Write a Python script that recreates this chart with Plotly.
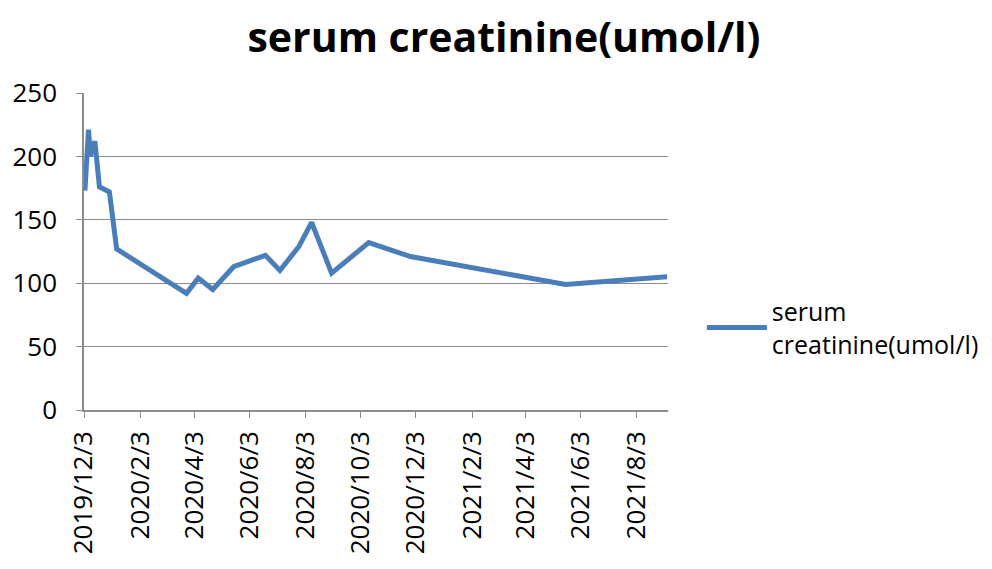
import plotly.graph_objects as go

dates = ["2019-12-04", "2019-12-08", "2019-12-10", "2019-12-15", "2019-12-20",
         "2019-12-31", "2020-01-08", "2020-03-25", "2020-04-07", "2020-04-23",
         "2020-05-16", "2020-06-20", "2020-07-06", "2020-07-27", "2020-08-10",
         "2020-09-01", "2020-10-12", "2020-11-27", "2021-05-17", "2021-09-06"]
creatinine = [173, 221, 200, 212, 176, 172, 127, 92, 104, 95,
              113, 122, 110, 129, 148, 108, 132, 121, 99, 105]

tick_dates = ["2019-12-03", "2020-02-03", "2020-04-03", "2020-06-03", "2020-08-03",
              "2020-10-03", "2020-12-03", "2021-02-03", "2021-04-03", "2021-06-03",
              "2021-08-03"]
tick_labels = ["2019/12/3", "2020/2/3", "2020/4/3", "2020/6/3", "2020/8/3",
               "2020/10/3", "2020/12/3", "2021/2/3", "2021/4/3", "2021/6/3",
               "2021/8/3"]
y_ticks = [0, 50, 100, 150, 200, 250]

series_name = "serum creatinine(umol/l)"
font_family = "Open Sans"
grid = "#8c8c8c"

fig = go.Figure()
fig.add_trace(go.Scatter(
    x=dates, y=creatinine, mode="lines",
    name="serum<br>creatinine(umol/l)",
    line=dict(color="#4a7ebb", width=5),
))

fig.update_layout(
    width=992, height=569,
    paper_bgcolor="white", plot_bgcolor="white",
    margin=dict(l=76, r=332, t=85, b=167),
    title=dict(text="<b>" + series_name + "</b>", x=0.5, xanchor="center",
               y=0.948, yanchor="middle",
               font=dict(family=font_family, size=41, color="black")),
    font=dict(family=font_family, color="black"),
    showlegend=True,
    legend=dict(x=1.058, xanchor="left", y=0.26, yanchor="middle",
                font=dict(family=font_family, size=25, color="black"),
                bgcolor="rgba(0,0,0,0)", itemwidth=60),
    xaxis=dict(
        type="date", range=["2019-12-03", "2021-09-07"],
        tickmode="array", tickvals=tick_dates, ticktext=tick_labels,
        tickangle=-90, tickfont=dict(size=26, family=font_family),
        showgrid=False, showline=True, linecolor=grid, linewidth=1.5,
        ticks="outside", ticklen=6, tickcolor=grid, zeroline=False,
        ticklabelstandoff=3, automargin=False,
    ),
    yaxis=dict(
        range=[0, 250], tickmode="array", tickvals=y_ticks,
        tickfont=dict(size=26, family=font_family),
        showgrid=True, gridcolor=grid, gridwidth=1.2,
        showline=True, linecolor=grid, linewidth=1.5,
        ticks="outside", ticklen=6, tickcolor=grid, zeroline=False,
        ticklabelstandoff=14, automargin=False,
    ),
)

fig.write_html("out.html")
